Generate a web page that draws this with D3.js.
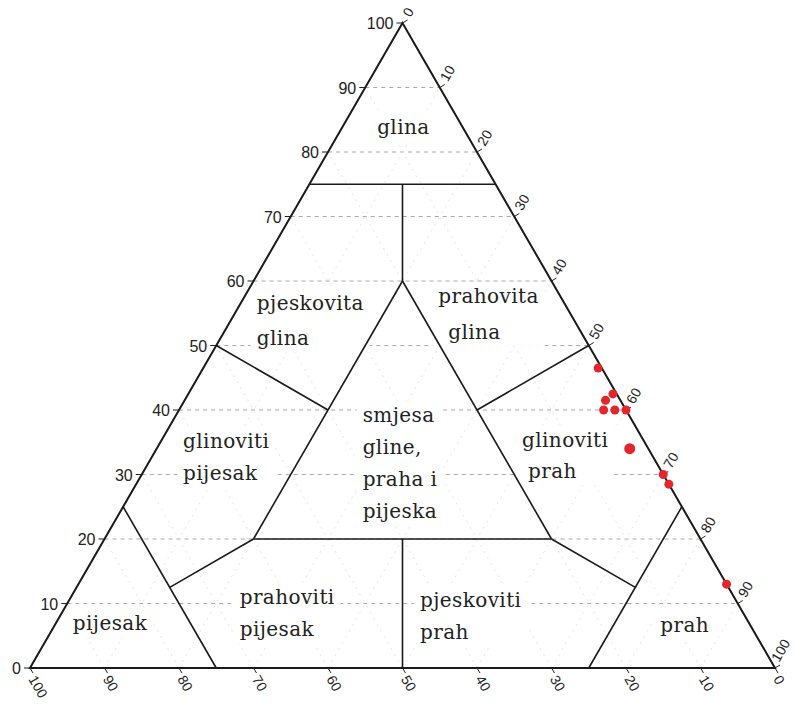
<!DOCTYPE html>
<html>
<head>
<meta charset="utf-8">
<script src="https://cdn.jsdelivr.net/npm/d3@7"></script>
<style>
  body { margin: 0; background: #fff; }
  .tick-label { font-family: "Liberation Sans", Arial, sans-serif; fill: #222; }
  .zone-label { font-family: "DejaVu Serif", serif; font-size: 20px; letter-spacing: 0.4px; fill: #222; }
</style>
</head>
<body>
<svg width="794" height="706"></svg>
<script>
// tick values for all three axes
const ticks = [0, 10, 20, 30, 40, 50, 60, 70, 80, 90, 100];

// samples (percent): clay, silt, sand
const clay = [46.5, 42.5, 41.5, 40, 40, 40, 34, 30, 28.5, 13];
const silt = [53, 57, 56.5, 57, 58.5, 60, 63.5, 70, 71.5, 87];
const sand = [0.5, 0.5, 2, 3, 1.5, 0, 2.5, 0, 0, 0];

// zone boundaries as [clay, silt] pairs
const boundaries = [
  [[75, 0], [75, 25]],
  [[75, 12.5], [60, 20]],
  [[60, 20], [20, 20]],
  [[60, 20], [20, 60]],
  [[20, 20], [20, 60]],
  [[20, 40], [0, 50]],
  [[50, 0], [40, 20]],
  [[50, 50], [40, 40]],
  [[25, 0], [0, 25]],
  [[12.5, 12.5], [20, 20]],
  [[25, 75], [0, 75]],
  [[12.5, 75], [20, 60]]
];

// zone names, one entry per line of text
const zoneNames = [
  ["glina"],
  ["pjeskovita", "glina"],
  ["prahovita", "glina"],
  ["glinoviti", "pijesak"],
  ["smjesa", "gline,", "praha i", "pijeska"],
  ["glinoviti", "prah"],
  ["pijesak"],
  ["prahoviti", "pijesak"],
  ["pjeskoviti", "prah"],
  ["prah"]
];

const svg = d3.select("svg");

const x = d3.scaleLinear().domain([0, 100]).range([30, 775]);
const y = d3.scaleLinear().domain([0, 100]).range([668, 23]);

// ternary projection (clay, silt) -> pixel
const px = (c, s) => x(s + c / 2);
const py = c => y(c);

// where each zone label starts (clay, silt of first baseline), line gap, per-line indents
const zonePos = [
  {c: 82.8, s: 5.2, dy: 34, dx: [0]},
  {c: 55.5, s: 2.7, dy: 35, dx: [0, 0]},
  {c: 56.6, s: 26.5, dy: 36, dx: [0, 10]},
  {c: 34.1, s: 3.5, dy: 32, dx: [0, 0]},
  {c: 38.1, s: 25.6, dy: 32, dx: [0, 0, 0, 0]},
  {c: 34.3, s: 48.9, dy: 31, dx: [0, 6]},
  {c: 5.9, s: 2.8, dy: 32, dx: [0]},
  {c: 9.9, s: 23.2, dy: 32, dx: [0, 0]},
  {c: 9.5, s: 47.6, dy: 32, dx: [0, 0]},
  {c: 5.6, s: 81.8, dy: 32, dx: [0]}
];

const grid = svg.append("g");

// clay gridlines (dashed horizontals)
grid.selectAll(".gclay")
  .data(ticks.slice(1, -1))
  .enter().append("line")
  .attr("x1", d => px(d, 0)).attr("y1", d => py(d))
  .attr("x2", d => px(d, 100 - d)).attr("y2", d => py(d))
  .attr("stroke", "#a8a8a8").attr("stroke-dasharray", "4,4").attr("stroke-width", 1);

// faint silt and sand gridlines
grid.selectAll(".gsilt")
  .data(ticks.slice(1, -1))
  .enter().append("line")
  .attr("x1", d => px(0, d)).attr("y1", py(0))
  .attr("x2", d => px(100 - d, d)).attr("y2", d => py(100 - d))
  .attr("stroke", "#e2e2e2").attr("stroke-dasharray", "2,5");
grid.selectAll(".gsand")
  .data(ticks.slice(1, -1))
  .enter().append("line")
  .attr("x1", d => px(0, 100 - d)).attr("y1", py(0))
  .attr("x2", d => px(100 - d, 0)).attr("y2", d => py(100 - d))
  .attr("stroke", "#e2e2e2").attr("stroke-dasharray", "2,5");

// zone labels with white boxes behind them
const labelG = svg.append("g");
zoneNames.forEach((lines, i) => {
  const p = zonePos[i];
  const g = labelG.append("g");
  const bg = g.append("rect").attr("fill", "#fff");
  const t = g.append("text").attr("class", "zone-label");
  lines.forEach((line, j) => {
    t.append("tspan")
      .attr("x", px(p.c, p.s) + p.dx[j])
      .attr("y", py(p.c) + j * p.dy)
      .text(line);
  });
  const bb = t.node().getBBox();
  bg.attr("x", bb.x - 6).attr("y", bb.y - 2)
    .attr("width", bb.width + 12).attr("height", bb.height + 4);
});

// zone boundaries
svg.append("g").selectAll("line")
  .data(boundaries)
  .enter().append("line")
  .attr("x1", d => px(d[0][0], d[0][1])).attr("y1", d => py(d[0][0]))
  .attr("x2", d => px(d[1][0], d[1][1])).attr("y2", d => py(d[1][0]))
  .attr("stroke", "#1a1a1a").attr("stroke-width", 1.6);

// triangle frame
svg.append("path")
  .attr("d", d3.line()([[px(0, 0), py(0)], [px(100, 0), py(100)], [px(0, 100), py(0)]]) + "Z")
  .attr("fill", "none").attr("stroke", "#1a1a1a").attr("stroke-width", 2);

// left axis: clay
const axL = svg.append("g");
axL.selectAll("line").data(ticks).enter().append("line")
  .attr("x1", d => px(d, 0) - 6).attr("y1", d => py(d))
  .attr("x2", d => px(d, 0)).attr("y2", d => py(d))
  .attr("stroke", "#222");
axL.selectAll("text").data(ticks).enter().append("text")
  .attr("class", "tick-label")
  .style("font-size", "16px")
  .attr("x", d => px(d, 0) - 9).attr("y", d => py(d) + 6)
  .attr("text-anchor", "end")
  .text(d => d);

// right axis: silt (0 at top)
const axR = svg.append("g");
axR.selectAll("line").data(ticks).enter().append("line")
  .attr("x1", d => px(100 - d, d)).attr("y1", d => py(100 - d))
  .attr("x2", d => px(100 - d, d) + 5).attr("y2", d => py(100 - d) - 3)
  .attr("stroke", "#222");
axR.selectAll("text").data(ticks).enter().append("text")
  .attr("class", "tick-label")
  .style("font-size", "14px")
  .attr("transform", d => `translate(${px(100 - d, d) + (d === 100 ? 4 : 8)},${py(100 - d) - 5}) rotate(-60)`)
  .text(d => d);

// bottom axis: sand (100 at left)
const axB = svg.append("g");
axB.selectAll("line").data(ticks).enter().append("line")
  .attr("x1", d => px(0, 100 - d)).attr("y1", py(0))
  .attr("x2", d => px(0, 100 - d) + 3).attr("y2", py(0) + 5)
  .attr("stroke", "#222");
axB.selectAll("text").data(ticks).enter().append("text")
  .attr("class", "tick-label")
  .style("font-size", "14px")
  .attr("transform", d => `translate(${px(0, 100 - d) - 2},${py(0) + 11}) rotate(60)`)
  .text(d => d);

// samples
svg.append("g").selectAll("circle")
  .data(clay.map((c, i) => ({c: c, s: silt[i], sa: sand[i]})))
  .enter().append("circle")
  .attr("cx", d => px(d.c, d.s))
  .attr("cy", d => py(d.c))
  .attr("r", (d, i) => i === 6 ? 5.5 : 4.5)
  .attr("fill", "#e3262c");
</script>
</body>
</html>
